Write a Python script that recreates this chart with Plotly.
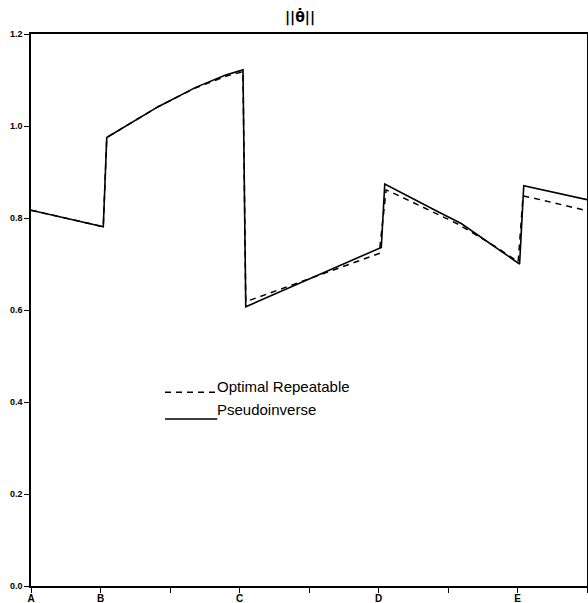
import plotly.graph_objects as go

# Data
x_tick_vals = [0, 1, 2, 3, 4, 5, 6, 7, 8]
x_tick_text = ["A", "B", "", "C", "", "D", "", "E", "F"]
y_tick_vals = [0.0, 0.2, 0.4, 0.6, 0.8, 1.0, 1.2]
y_tick_text = ["0.0", "0.2", "0.4", "0.6", "0.8", "1.0", "1.2"]

pinv_x = [0, 1.04, 1.09, 1.44, 1.83, 2.37, 2.80, 3.05, 3.09, 5.04, 5.09, 5.85, 6.19, 7.03, 7.09, 8.0]
pinv_y = [0.817, 0.781, 0.975, 1.006, 1.042, 1.084, 1.111, 1.122, 0.607, 0.736, 0.874, 0.814, 0.788, 0.700, 0.870, 0.840]

opt_x = [0, 1.04, 1.09, 1.44, 1.83, 2.37, 2.80, 3.05, 3.09, 5.01, 5.11, 5.37, 6.14, 6.67, 7.01, 7.08, 7.18, 8.0]
opt_y = [0.817, 0.781, 0.975, 1.006, 1.042, 1.083, 1.108, 1.118, 0.618, 0.723, 0.861, 0.843, 0.787, 0.739, 0.705, 0.848, 0.845, 0.816]

legend_labels = ["Optimal Repeatable", "Pseudoinverse"]
title_text = "||\u03b8\u0307||"

fig = go.Figure()
fig.add_trace(go.Scatter(x=opt_x, y=opt_y, mode="lines", name=legend_labels[0],
                         line=dict(color="black", width=1.5, dash="6px,5px")))
fig.add_trace(go.Scatter(x=pinv_x, y=pinv_y, mode="lines", name=legend_labels[1],
                         line=dict(color="black", width=1.6)))

ff = "Liberation Sans, Arial, sans-serif"
axis_font = dict(family=ff, size=10, color="black")

fig.update_layout(
    width=588, height=603,
    margin=dict(l=31, r=1, t=34, b=17),
    paper_bgcolor="white", plot_bgcolor="white",
    showlegend=False,
    xaxis=dict(range=[0, 8], tickvals=x_tick_vals,
               ticktext=["<b>%s</b>" % t for t in x_tick_text],
               ticks="outside", ticklen=5, tickwidth=1, tickcolor="black",
               showline=True, linecolor="black", linewidth=1.5, mirror=True,
               showgrid=False, zeroline=False, tickfont=axis_font,
               ticklabelstandoff=-3, automargin=False),
    yaxis=dict(range=[0, 1.2], tickvals=y_tick_vals,
               ticktext=["<b>%s</b>" % t for t in y_tick_text],
               ticks="outside", ticklen=5, tickwidth=1, tickcolor="black",
               showline=True, linecolor="black", linewidth=1.5, mirror=True,
               showgrid=False, zeroline=False, tickfont=dict(family=ff, size=9, color="black"),
               ticklabelstandoff=0, automargin=False),
    font=dict(family=ff, color="black"),
)

# Title ||θ̇|| (theta with combining dot above)
fig.add_annotation(text="<b>%s</b>" % title_text, xref="paper", yref="paper",
                   x=0.484, y=1.0, yanchor="bottom", yshift=6, showarrow=False,
                   font=dict(size=14, color="black", family="DejaVu Sans, sans-serif"))

# Legend drawn manually
leg_font = dict(size=15, color="black", family=ff)
fig.add_shape(type="line", xref="paper", yref="paper", x0=0.241, x1=0.331, y0=0.351, y1=0.351,
              line=dict(color="black", width=1.3, dash="6px,5px"))
fig.add_annotation(text=legend_labels[0], xref="paper", yref="paper", x=0.331, y=0.362,
                   xanchor="left", yanchor="middle", showarrow=False, font=leg_font)
fig.add_shape(type="line", xref="paper", yref="paper", x0=0.241, x1=0.335, y0=0.3025, y1=0.3025,
              line=dict(color="black", width=1.3))
fig.add_annotation(text=legend_labels[1], xref="paper", yref="paper", x=0.331, y=0.320,
                   xanchor="left", yanchor="middle", showarrow=False, font=leg_font)

fig.write_html("out.html", config={"displayModeBar": False},
               post_script="document.body.style.margin='0';document.body.style.overflow='hidden';")
